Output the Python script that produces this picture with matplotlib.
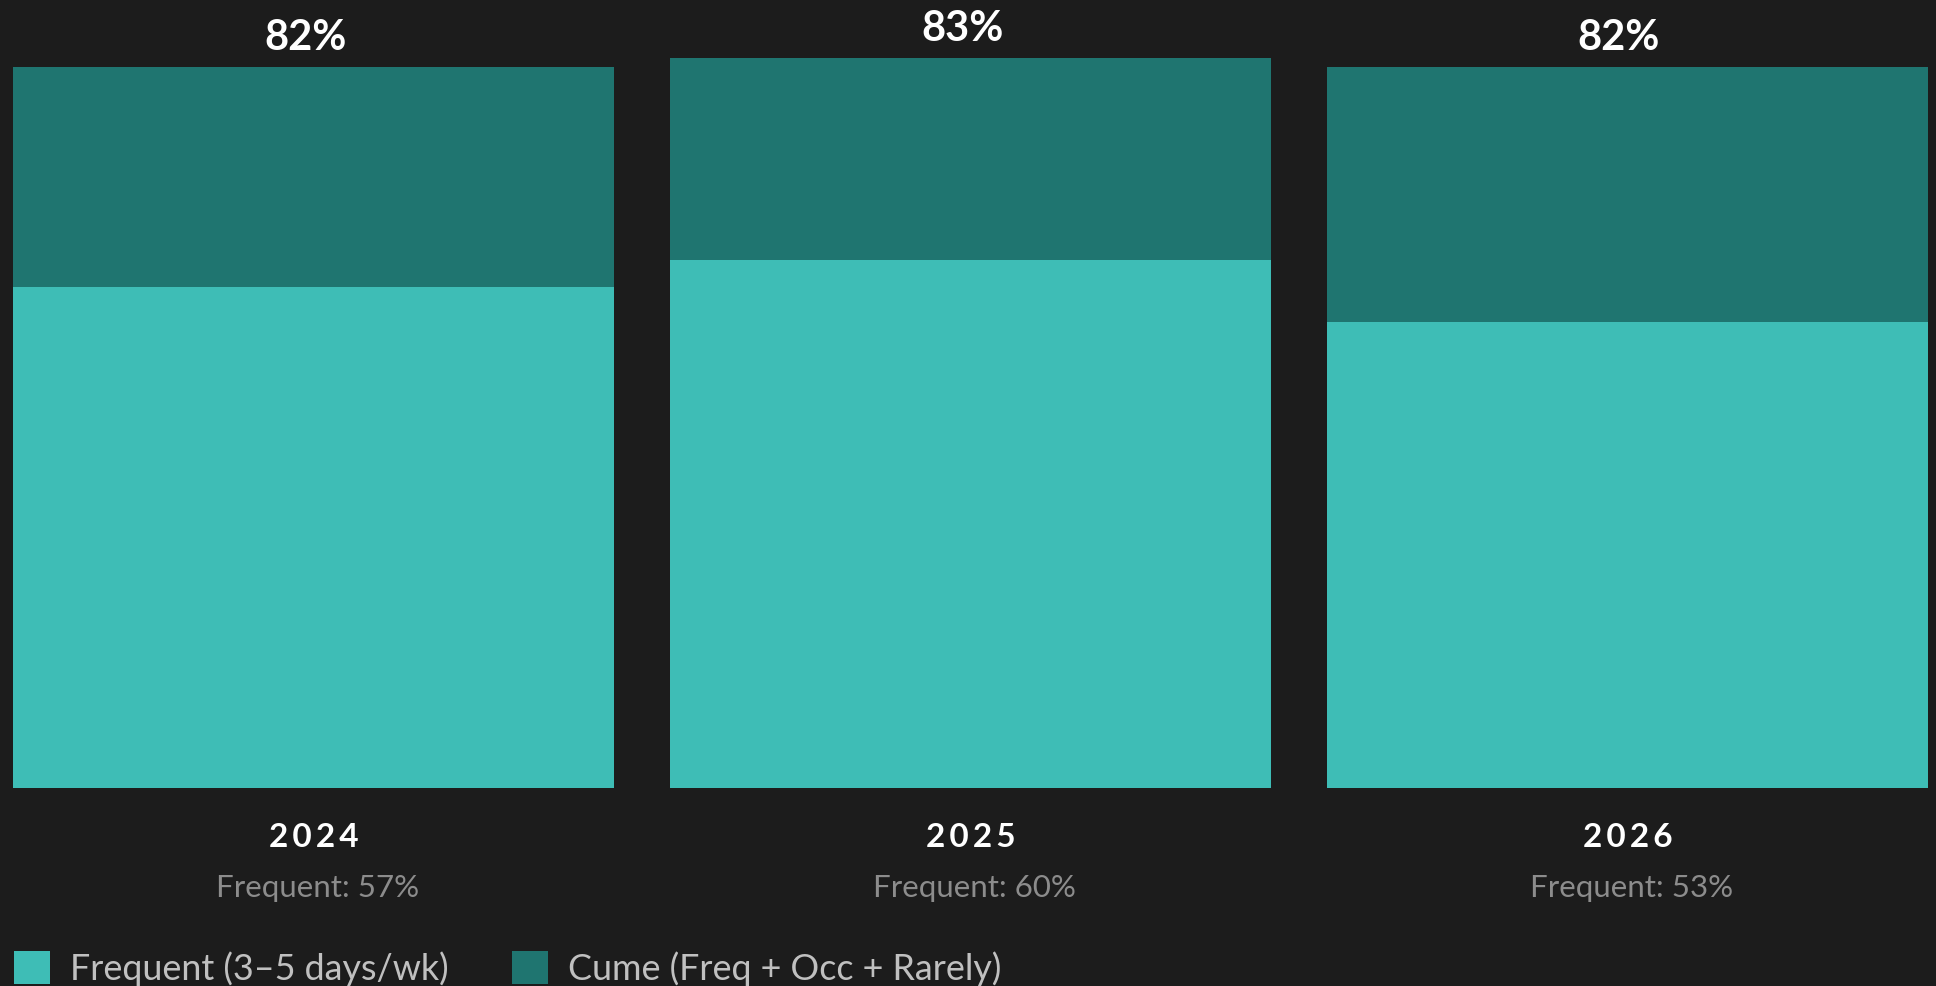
import matplotlib
matplotlib.use("Agg")
import matplotlib.pyplot as plt
from matplotlib.patches import Patch
from matplotlib.transforms import blended_transform_factory
import numpy as np

# ~~> values per year
years = ['2024', '2025', '2026']
frequent = [57, 60, 53]
cume = [82, 83, 82]
legend_labels = ['Frequent (3\u20135 days/wk)', 'Cume (Freq + Occ + Rarely)']

BG = '#1c1c1c'
LIGHT = '#3ebdb6'
DARK = '#1f7570'

plt.rcParams['font.family'] = ['Lato', 'DejaVu Sans']

fig = plt.figure(figsize=(19.36, 9.86), dpi=100, facecolor=BG)
ax = fig.add_axes([0.0, 0.2008, 1.0, 0.7992])
ax.set_facecolor(BG)

ind = np.arange(len(years))
width = 0.915

ax.bar(ind, cume, width, color=DARK, linewidth=0)
ax.bar(ind, frequent, width, color=LIGHT, linewidth=0)

ax.set_xlim(-0.478, 2.47)
ax.set_ylim(0, 89.6)
ax.axis('off')

# cume total above each bar
for x, val in zip(ind, cume):
    ax.annotate('{}%'.format(val), xy=(x, val), xytext=(-6, 12),
                textcoords='offset points', ha='center', va='baseline',
                fontsize=30, fontweight='bold', color='white')

# year (letter spaced) and frequent share under each bar
trans = blended_transform_factory(ax.transData, fig.transFigure)
for x, year, val in zip(ind, years, frequent):
    ax.text(x, 0.1413, '\u2009'.join(year), transform=trans, ha='center',
            va='baseline', fontsize=24, fontweight='bold', color='white')
    ax.text(x + 0.006, 0.0906, 'Frequent: {}%'.format(val), transform=trans,
            ha='center', va='baseline', fontsize=22.5, color='#8c8c8c')

handles = [Patch(facecolor=LIGHT, edgecolor='none'),
           Patch(facecolor=DARK, edgecolor='none')]
fig.legend(handles, legend_labels, loc='lower left',
           bbox_to_anchor=(0.007, 0.0), ncol=2, frameon=False,
           fontsize=25.8, labelcolor='#c0c0c0', borderpad=0,
           handlelength=1.03, handleheight=1.03, handletextpad=0.55,
           columnspacing=1.75, borderaxespad=0)

fig.savefig('out.png', facecolor=BG)
